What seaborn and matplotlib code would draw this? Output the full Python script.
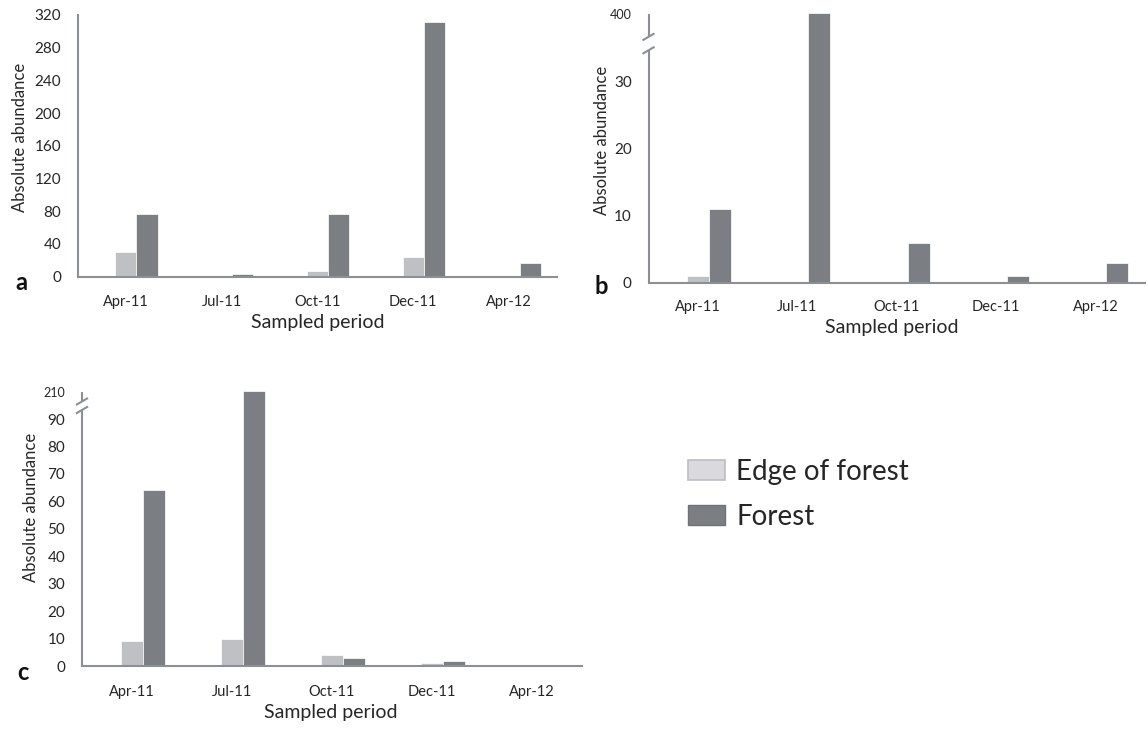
import numpy as np
import pandas as pd
import matplotlib
matplotlib.use("Agg")
import matplotlib.pyplot as plt
import seaborn as sns
from matplotlib.patches import Patch

# ---------------- data ----------------
periods = ["Apr-11", "Jul-11", "Oct-11", "Dec-11", "Apr-12"]
habitats = ["Edge of forest", "Forest"]

a_edge = [30, 0, 7, 24, 0]
a_forest = [76, 3, 76, 312, 16]
b_edge = [1, 0, 0, 0, 0]
b_forest = [11, 415, 6, 1, 3]
c_edge = [9, 10, 4, 1, 0]
c_forest = [64, 212, 3, 2, 0]

a_yticks = [0, 40, 80, 120, 160, 200, 240, 280, 320]
b_yticks = [0, 10, 20, 30, 400]
c_yticks = [0, 10, 20, 30, 40, 50, 60, 70, 80, 90, 210]

# ---------------- style ----------------
EDGE_C = "#BFC0C3"
FOREST_C = "#7B7F83"
AXIS_C = "#8C8F93"
TEXT_C = "#262626"
W, H = 1148, 729

sns.set_style("white")
plt.rcParams["font.family"] = ["Lato", "DejaVu Sans"]
plt.rcParams["text.color"] = TEXT_C
plt.rcParams["axes.labelcolor"] = TEXT_C
plt.rcParams["xtick.color"] = TEXT_C
plt.rcParams["ytick.color"] = TEXT_C

fig = plt.figure(figsize=(W / 100, H / 100), dpi=100)


def rect(x0, x1, ytop, ybot):
    return [x0 / W, 1 - ybot / H, (x1 - x0) / W, (ybot - ytop) / H]


def long_frame(edge, forest):
    return pd.DataFrame({
        "period": periods * 2,
        "habitat": [habitats[0]] * len(periods) + [habitats[1]] * len(periods),
        "abundance": list(edge) + list(forest),
    })


def make_break(lo, span, gain):
    def fwd(v):
        v = np.asarray(v, dtype=float)
        return np.where(v <= lo, v, lo + (v - lo) * span / gain)

    def inv(u):
        u = np.asarray(u, dtype=float)
        return np.where(u <= lo, u, lo + (u - lo) * gain / span)
    return fwd, inv


OFF = 0.11


def panel(r, edge, forest, yticks, ylim, xpad, ylab_xy, xlab_xy,
          brk=None, brk_y=None, small_top=False):
    ax = fig.add_axes(r)
    sns.barplot(data=long_frame(edge, forest), x="period", y="abundance",
                hue="habitat", hue_order=habitats, order=periods,
                palette=[EDGE_C, FOREST_C], saturation=1, width=0.44,
                errorbar=None, legend=False, ax=ax,
                edgecolor="white", linewidth=0.5)
    for p in ax.patches:
        p.set_clip_on(False)
    if brk is not None:
        ax.set_yscale("function", functions=brk)
    ax.set_ylim(*ylim)
    ax.set_yticks(yticks)
    ax.set_yticklabels([str(t) for t in yticks])
    ax.tick_params(axis="y", direction="out", length=5, width=1.5,
                   color=AXIS_C, pad=7, labelsize=11)
    if small_top:
        ax.get_yticklabels()[-1].set_fontsize(9)

    bounds = np.arange(len(periods) + 1) - 0.5 - OFF
    centers = np.arange(len(periods)) - OFF
    ax.set_xticks(bounds)
    ax.set_xticklabels([""] * len(bounds))
    ax.set_xticks(centers, minor=True)
    ax.set_xticklabels(periods, minor=True)
    ax.tick_params(axis="x", which="major", direction="out", length=5,
                   width=1.5, color=AXIS_C)
    ax.tick_params(axis="x", which="minor", length=0, pad=xpad,
                   labelsize=10.5)
    ax.set_xlim(bounds[0], bounds[-1])

    for s in ["top", "right"]:
        ax.spines[s].set_visible(False)
    ax.spines["bottom"].set_color(AXIS_C)
    ax.spines["bottom"].set_linewidth(1.5)
    ax.spines["left"].set_color(AXIS_C)
    ax.spines["left"].set_linewidth(1.5)

    if brk_y is not None:
        ax.spines["left"].set_visible(False)
        lo_y, hi_y = brk_y
        bb = ax.get_position()
        pw, ph = bb.width * W, bb.height * H
        dx, dy = 6 / pw, 3.5 / ph
        kw = dict(transform=ax.transAxes, color=AXIS_C, lw=1.5,
                  clip_on=False, solid_capstyle="butt")
        ax.plot([0, 0], [0, lo_y], **kw)
        ax.plot([0, 0], [hi_y, 1], **kw)
        ax.plot([-dx, dx], [lo_y - dy, lo_y + dy], **kw)
        ax.plot([-dx, dx], [hi_y - dy, hi_y + dy], **kw)

    ax.set_ylabel("Absolute abundance", fontsize=12)
    ax.yaxis.label.set_va("center")
    ax.yaxis.set_label_coords(*ylab_xy)
    ax.set_xlabel("Sampled period", fontsize=14)
    ax.xaxis.label.set_va("center")
    ax.xaxis.set_label_coords(*xlab_xy)
    return ax


# panel a
panel(rect(78, 557, 15, 276.5), a_edge, a_forest, a_yticks, (0, 320),
      xpad=13, ylab_xy=(-0.121, 0.533), xlab_xy=(0.5, -0.174))

# panel b (broken axis)
panel(rect(648.5, 1145, 14, 283), b_edge, b_forest, b_yticks, (0, 400),
      xpad=12, ylab_xy=(-0.093, 0.532), xlab_xy=(0.49, -0.164),
      brk=make_break(35, 5, 365), brk_y=(34.6 / 40, 36.6 / 40),
      small_top=True)

# panel c (broken axis)
panel(rect(82, 582, 391.6, 666), c_edge, c_forest, c_yticks, (0, 210),
      xpad=14, ylab_xy=(-0.102, 0.579), xlab_xy=(0.498, -0.171),
      brk=make_break(95, 5, 115), brk_y=(93.3 / 100, 96.4 / 100),
      small_top=True)

# panel letters
for letter, (px, py) in zip(["a", "b", "c"], [(21, 282), (601, 287), (23, 672)]):
    fig.text(px / W, 1 - py / H, letter, fontsize=17, fontweight="bold",
             ha="center", va="center", color="#111111")

# legend
handles = [Patch(facecolor="#DADADE", edgecolor="#BDBEC2", linewidth=1.2),
           Patch(facecolor=FOREST_C, edgecolor="#6E7276", linewidth=1.0)]
fig.legend(handles, habitats, loc="upper left",
           bbox_to_anchor=(688 / W, 1 - 459 / H), frameon=False,
           fontsize=20, handlelength=1.33, handleheight=0.72,
           handletextpad=0.4, labelspacing=0.68, borderpad=0,
           borderaxespad=0)

fig.savefig("out.png", dpi=100)
